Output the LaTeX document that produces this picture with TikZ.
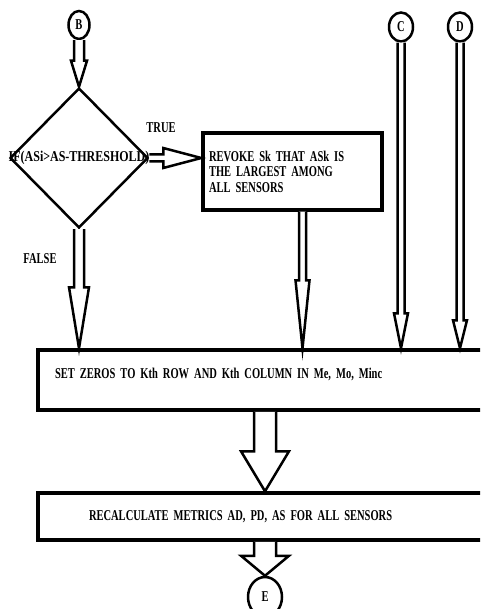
\documentclass[tikz,border=0pt]{standalone}
\usepackage{fontspec}
\setmainfont{Liberation Serif}[FakeStretch=0.7]
\usetikzlibrary{shapes.geometric,calc,positioning}

% hollow block arrow: shaft half width, head half width, head length
\tikzset{
  hollow/.style n args={3}{to path={
    ($(\tikztostart)!#1!90:(\tikztotarget)$)
    -- ($(\tikztotarget)!#3!(\tikztostart)!#1!-90:(\tikztostart)$)
    -- ($(\tikztotarget)!#3!(\tikztostart)!#2!-90:(\tikztostart)$)
    -- (\tikztotarget)
    -- ($(\tikztotarget)!#3!(\tikztostart)!#2!90:(\tikztostart)$)
    -- ($(\tikztotarget)!#3!(\tikztostart)!#1!90:(\tikztostart)$)
    -- ($(\tikztostart)!#1!-90:(\tikztotarget)$)}},
}

\begin{document}
\begin{tikzpicture}[x=1pt,y=-1pt,
  font=\bfseries\fontsize{15}{15.5}\selectfont,
  conn/.style={draw,ellipse,line width=2.5pt,inner sep=0pt,minimum width=21pt,minimum height=28pt},
  decision/.style={draw,diamond,line width=2.5pt,inner sep=0pt,minimum width=138pt,minimum height=140pt},
  stepbox/.style={draw,rectangle,line width=3.5pt,align=left,inner ysep=2pt},
  flow/.style={draw,line width=2.5pt,fill=white,line join=miter}
]
  \useasboundingbox (0,0) rectangle (480,609);
  \clip (0,0) rectangle (480,609);

  % connectors in
  \node[conn] (b) at (79,25) {B};
  \node[conn,minimum width=24pt,minimum height=29pt] (c) at (401,27) {C};
  \node[conn,minimum width=24pt,minimum height=29pt] (d) at (460,27) {D};

  % decision and boxes
  \node[decision,label={center:\scalebox{1.14}[1]{IF(ASi>AS-THRESHOLD)}}] (test) at (79,158) {};
  \node[stepbox,minimum width=179pt,minimum height=77pt,inner xsep=6pt,text width=167pt] (revoke) at (292.5,171.5)
    {REVOKE Sk THAT ASk IS\\THE LARGEST AMONG\\ALL SENSORS};
  \node[stepbox,minimum width=454pt,minimum height=60pt,inner xsep=17pt,text width=420pt,text depth=14pt] (setz) at (265,380)
    {SET ZEROS TO Kth ROW AND Kth COLUMN IN Me, Mo, Minc};
  \node[stepbox,minimum width=454pt,minimum height=47pt,inner xsep=51pt,text width=352pt] (recalc) at (265,516.5)
    {RECALCULATE METRICS AD, PD, AS FOR ALL SENSORS};
  \node[conn,minimum width=34pt,minimum height=40pt] (e) at (265,597) {E};

  \node (true) at (161,128) {TRUE};
  \node (false) at (40,259) {FALSE};

  % arrows
  \draw[flow,hollow={5pt}{8pt}{26pt}] (b.south) to (test.north);
  \draw[flow,hollow={3.5pt}{10pt}{38pt}] (test.east) to (test.east -| revoke.west);
  \draw[flow,hollow={5pt}{10pt}{61pt}] (test.south) to (test.south |- setz.north);
  \coordinate (rvout) at ([xshift=10pt]revoke.south);
  \draw[flow,hollow={3.5pt}{7pt}{68pt}] (rvout) to (rvout |- setz.north);
  \draw[flow,hollow={3.5pt}{7pt}{35pt}] (c.south) to (c.south |- setz.north);
  \draw[flow,hollow={3.5pt}{7pt}{28pt}] (d.south) to (d.south |- setz.north);
  \draw[flow,hollow={11pt}{24pt}{40pt}] (setz.south) to (recalc.north);
  \draw[flow,hollow={11pt}{24pt}{20pt}] (recalc.south) to (e.north);
\end{tikzpicture}
\end{document}
